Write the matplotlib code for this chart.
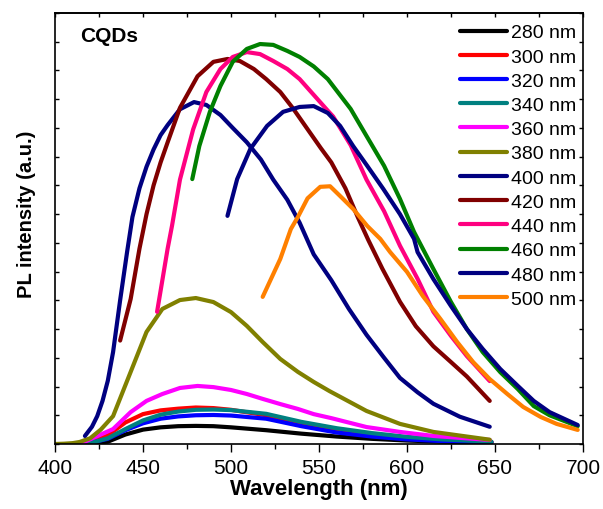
import numpy as np
import matplotlib.pyplot as plt

plt.rcParams['font.family'] = ['Liberation Sans', 'DejaVu Sans']

# excitation wavelengths (legend)
labels = ['280 nm', '300 nm', '320 nm', '340 nm', '360 nm', '380 nm',
          '400 nm', '420 nm', '440 nm', '460 nm', '480 nm', '500 nm']
colors = ['#000000', '#ff0000', '#0000ff', '#008080', '#ff00ff', '#808000',
          '#000080', '#800000', '#ff0080', '#008000', '#000080', '#ff8000']

wl_low = [410, 420, 430, 440, 450, 460, 470, 480, 490, 500, 520, 540, 560, 580, 600, 620, 648]
pl_280 = [0, 0.04, 0.08, 0.33, 0.5, 0.58, 0.62, 0.63, 0.62, 0.58, 0.48, 0.36, 0.26, 0.18, 0.12, 0.08, 0.05]
pl_300 = [0, 0.06, 0.3, 0.75, 1.04, 1.17, 1.23, 1.27, 1.25, 1.19, 1.0, 0.7, 0.5, 0.34, 0.22, 0.14, 0.08]
pl_320 = [0, 0.04, 0.18, 0.48, 0.72, 0.88, 0.96, 1.0, 1.01, 0.99, 0.88, 0.62, 0.4, 0.26, 0.16, 0.1, 0.06]
pl_340 = [0, 0.03, 0.2, 0.52, 0.82, 1.02, 1.13, 1.19, 1.2, 1.18, 1.05, 0.77, 0.55, 0.38, 0.25, 0.16, 0.08]

wl_360 = [414, 433, 443, 452, 461, 471, 481, 490, 500, 509, 518, 528, 538, 547, 557, 577, 596, 615, 647]
pl_360 = [0, 0.52, 1.11, 1.5, 1.74, 1.95, 2.02, 1.98, 1.88, 1.74, 1.57, 1.39, 1.22, 1.04, 0.9, 0.59, 0.42, 0.28, 0.14]

wl_380 = [400, 405, 410, 414, 420, 426, 433, 443, 452, 461, 471, 480, 490, 500, 509, 518, 528,
          538, 547, 556, 577, 596, 615, 647]
pl_380 = [0, 0.01, 0.03, 0.07, 0.2, 0.5, 0.97, 2.51, 3.9, 4.7, 5.01, 5.08, 4.94, 4.59, 4.11, 3.55, 2.96,
          2.51, 2.16, 1.84, 1.15, 0.7, 0.42, 0.15]

wl_400 = [417, 421, 424, 427, 430, 433, 437, 441, 444, 448, 452, 456, 460, 464, 471, 479, 486, 494, 501, 509,
          517, 524, 532, 539, 547, 557, 567, 577, 587, 596, 606, 615, 630, 647]
pl_400 = [0.28, 0.6, 0.97, 1.5, 2.2, 3.2, 5.0, 6.7, 7.9, 8.9, 9.65, 10.25, 10.75, 11.1, 11.65, 11.9, 11.8, 11.45, 11.0, 10.5,
          9.9, 9.2, 8.5, 7.7, 6.6, 5.7, 4.7, 3.8, 3.0, 2.3, 1.8, 1.4, 0.95, 0.6]

wl_420 = [437, 443, 448, 452, 456, 460, 464, 471, 481, 490, 498, 505, 513, 520, 528, 535, 543,
          551, 557, 565, 572, 578, 586, 596, 605, 615, 625, 634, 647]
pl_420 = [3.6, 5.05, 6.8, 8.0, 9.0, 9.8, 10.5, 11.7, 12.8, 13.3, 13.4, 13.33, 13.05, 12.7, 12.25, 11.7, 11.0,
          10.3, 9.8, 8.9, 7.9, 7.1, 6.1, 4.95, 4.1, 3.4, 2.85, 2.35, 1.5]

wl_440 = [458, 464, 466.5, 471, 478.5, 486, 494, 501, 509, 516.5, 524, 532, 539, 547, 555,
          558, 568, 577, 587, 596, 606, 615, 625, 634, 647]
pl_440 = [4.6, 6.8, 7.6, 9.2, 10.95, 12.25, 13.05, 13.47, 13.64, 13.57, 13.33, 13.05, 12.7, 12.15, 11.6,
          11.4, 10.4, 9.2, 8.1, 6.9, 5.75, 4.6, 3.76, 3.06, 2.19]

wl_460 = [478, 482, 488, 494, 501, 509, 516.5, 524, 532, 539, 547, 555, 558, 568, 577, 587,
          596, 604, 615, 625, 634, 643, 653, 663, 672, 681, 697]
pl_460 = [9.22, 10.37, 11.56, 12.46, 13.3, 13.75, 13.92, 13.89, 13.68, 13.47, 13.14, 12.7, 12.46, 11.66, 10.72, 9.68,
          8.53, 7.38, 6.09, 4.94, 4.0, 3.2, 2.5, 1.91, 1.32, 1.0, 0.62]

wl_480 = [498, 503.5, 511, 520.5, 529.6, 539, 547, 555, 562, 569.4, 577.4, 586.5, 596, 604, 606,
          615, 625, 634, 643, 653, 663, 672, 681, 697]
pl_480 = [7.94, 9.22, 10.27, 11.07, 11.56, 11.73, 11.76, 11.52, 11.07, 10.37, 9.68, 8.88, 8.0, 7.14, 6.68,
          5.74, 4.8, 4.0, 3.31, 2.61, 2.02, 1.5, 1.11, 0.66]

wl_500 = [518, 528, 534, 538, 543.5, 550.7, 556.3, 562, 569.4, 577.4, 584.8, 590.4, 600, 609,
          619, 628.5, 637.6, 647, 657, 666, 676, 685, 697]
pl_500 = [5.12, 6.44, 7.48, 7.9, 8.55, 8.95, 8.97, 8.63, 8.18, 7.59, 7.14, 6.68, 5.99, 5.15,
          4.35, 3.55, 2.85, 2.26, 1.74, 1.29, 0.94, 0.7, 0.49]

wls = [wl_low, wl_low, wl_low, wl_low, wl_360, wl_380, wl_400, wl_420, wl_440, wl_460, wl_480, wl_500]
pls = [pl_280, pl_300, pl_320, pl_340, pl_360, pl_380, pl_400, pl_420, pl_440, pl_460, pl_480, pl_500]

fig = plt.figure(figsize=(6.03, 5.10), dpi=100)
ax = fig.add_axes([55/603, 1 - 445/510, 528/603, 431/510])

for x, y, c, lab in zip(wls, pls, colors, labels):
    ax.plot(x, y, color=c, lw=3, label=lab, solid_capstyle='round', solid_joinstyle='round')

ax.set_xlim(400, 700)
ax.set_ylim(0, 15)
ax.set_xticks(np.arange(400, 701, 50))
ax.set_xticks(np.arange(425, 700, 50), minor=True)
ax.set_yticks(np.arange(0, 16, 1))
ax.set_yticklabels([])
ax.tick_params(axis='x', which='major', direction='out', length=6, width=1, labelsize=15, pad=4)
ax.tick_params(axis='x', which='minor', direction='out', length=3.5, width=1)
ax.tick_params(axis='y', which='major', direction='in', length=3, width=1, left=True, right=True)

top = ax.secondary_xaxis('top')
top.set_xticks(np.arange(400, 701, 25))
top.set_xticklabels([])
top.tick_params(direction='in', length=3, width=1)

for s in ax.spines.values():
    s.set_linewidth(1.2)
top.spines['top'].set_linewidth(1.2)

ax.set_xlabel('Wavelength (nm)', fontsize=16, fontweight='bold', labelpad=1)
ax.set_ylabel('PL intensity (a.u.)', fontsize=14.5, fontweight='bold')
ax.yaxis.set_label_coords(-0.036, 0.536)

ax.text(0.047, 0.947, 'CQDs', transform=ax.transAxes, fontsize=15, fontweight='bold',
        va='center', ha='left')

ax.legend(loc='upper right', bbox_to_anchor=(1.007, 1.0), frameon=False, fontsize=14,
          handlelength=2.4, handletextpad=0.2, labelspacing=0.34, borderaxespad=0.15)

fig.savefig('out.png', dpi=100)
